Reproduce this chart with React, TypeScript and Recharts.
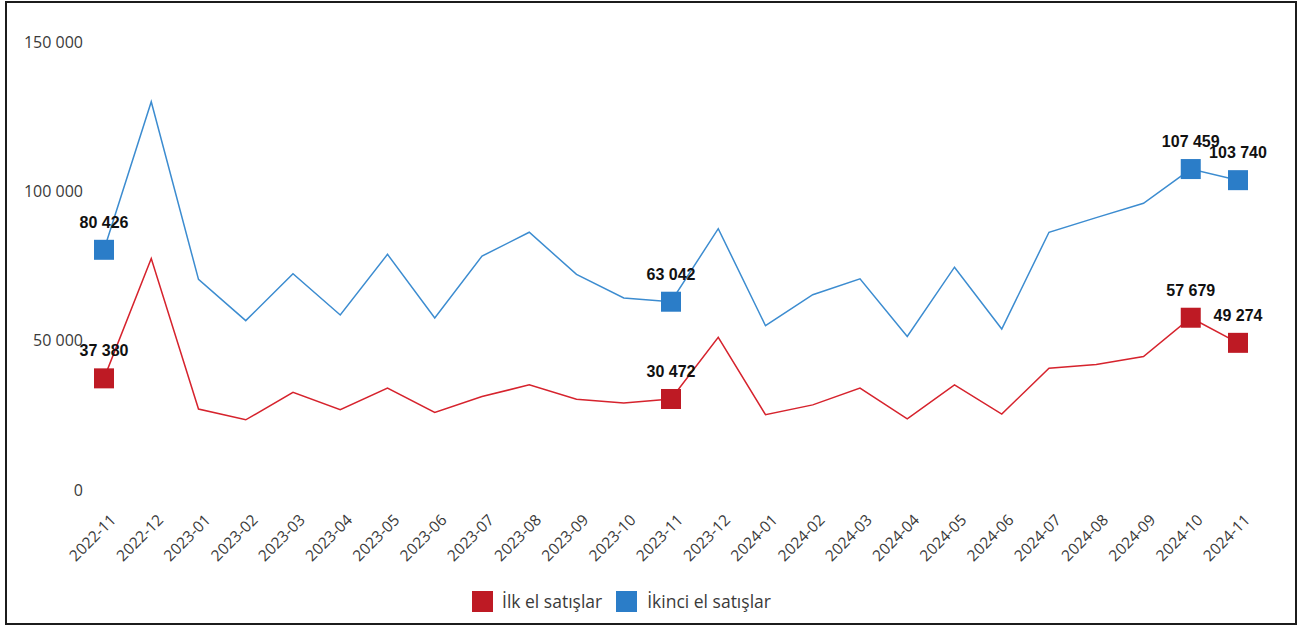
import React from 'react';
import { LineChart, Line, XAxis, YAxis, Legend, LabelList } from 'recharts';

const months = [
  '2022-11', '2022-12', '2023-01', '2023-02', '2023-03', '2023-04', '2023-05', '2023-06', '2023-07',
  '2023-08', '2023-09', '2023-10', '2023-11', '2023-12', '2024-01', '2024-02', '2024-03', '2024-04',
  '2024-05', '2024-06', '2024-07', '2024-08', '2024-09', '2024-10', '2024-11',
];
const ilkEl = [
  37380, 77500, 27100, 23500, 32700, 26900, 34100, 26000, 31300, 35200, 30400, 29100, 30472,
  51100, 25200, 28500, 34100, 23800, 35200, 25400, 40800, 42000, 44700, 57679, 49274,
];
const ikinciEl = [
  80426, 130000, 70500, 56700, 72400, 58600, 78900, 57600, 78300, 86300, 72200, 64300, 63042,
  87500, 55000, 65400, 70700, 51400, 74600, 53900, 86300, 91200, 96000, 107459, 103740,
];
const yTicks = [0, 50000, 100000, 150000];
const markedIdx = [0, 12, 23, 24];
const seriesNames = ['İlk el satışlar', 'İkinci el satışlar'];

const RED_LINE = '#D6232D';
const RED_MARK = '#BE1A24';
const BLUE_LINE = '#3C8CD0';
const BLUE_MARK = '#2B7DC8';
const TEXT = '#3a3a3a';
const FONT = "'Open Sans', 'Noto Sans', sans-serif";

const data = months.map((m, i) => ({ month: m, ilk: ilkEl[i], ikinci: ikinciEl[i] }));

const fmt = (v: number) => String(v).replace(/\B(?=(\d{3})+(?!\d))/g, ' ');

const XTick = (props: any) => {
  const { x, y, payload } = props;
  const bx = x + 13;
  const by = y + 31;
  return (
    <text x={bx} y={by} textAnchor="end" transform={`rotate(-45 ${bx} ${by})`}
      fontSize={15.5} fill={TEXT} fontFamily={FONT}>{payload.value}</text>
  );
};

const YTick = (props: any) => {
  const { x, y, payload } = props;
  return (
    <text x={x} y={y} dy="0.36em" textAnchor="end" fontSize={16} fill={TEXT} fontFamily={FONT}>
      {fmt(payload.value)}
    </text>
  );
};

const makeDot = (color: string) => (props: any) => {
  const { cx, cy, index } = props;
  if (!markedIdx.includes(index)) return <g key={`d${index}`} />;
  return <rect key={`d${index}`} x={cx - 10} y={cy - 10} width={20} height={20} fill={color} />;
};

const renderLabel = (props: any) => {
  const { x, y, value, index } = props;
  if (!markedIdx.includes(index)) return null;
  return (
    <text x={x} y={y - 22} textAnchor="middle" fontSize={16} fontWeight="bold"
      fontFamily="'Liberation Sans', Arial, sans-serif" fill="#111">{fmt(value)}</text>
  );
};

const LegendContent = () => (
  <div style={{ height: 30, display: 'flex', alignItems: 'center', paddingLeft: 472, fontFamily: FONT, fontSize: 17.5, color: TEXT }}>
    <div style={{ width: 21, height: 21, background: RED_MARK }} />
    <span style={{ marginLeft: 9 }}>{seriesNames[0]}</span>
    <div style={{ width: 21, height: 21, background: BLUE_MARK, marginLeft: 14 }} />
    <span style={{ marginLeft: 10 }}>{seriesNames[1]}</span>
  </div>
);

export default function App() {
  return (
    <div style={{ position: 'absolute', left: 0, top: 0, width: 1306, height: 628, background: '#fff' }}>
      <div style={{ position: 'absolute', left: 5, top: 1, width: 1292, height: 624, border: '2px solid #1c1c1c', boxSizing: 'border-box' }} />
      <div style={{ position: 'absolute', left: 0, top: 0 }}>
        <LineChart width={1306} height={628} data={data} margin={{ top: 42, right: 47, bottom: 12, left: 0 }}>
          <XAxis dataKey="month" axisLine={false} tickLine={false} tickSize={0} tickMargin={0}
            height={96} padding={{ left: 21, right: 21 }} interval={0} tick={<XTick />} />
          <YAxis domain={[0, 150000]} ticks={yTicks} axisLine={false} tickLine={false} tickSize={0}
            tickMargin={0} width={83} tick={<YTick />} />
          <Legend verticalAlign="bottom" content={<LegendContent />} wrapperStyle={{ left: 0, width: 1306 }} />
          <Line type="linear" dataKey="ilk" name={seriesNames[0]} stroke={RED_LINE} strokeWidth={1.5}
            dot={makeDot(RED_MARK)} activeDot={false} isAnimationActive={false}>
            <LabelList dataKey="ilk" content={renderLabel} />
          </Line>
          <Line type="linear" dataKey="ikinci" name={seriesNames[1]} stroke={BLUE_LINE} strokeWidth={1.5}
            dot={makeDot(BLUE_MARK)} activeDot={false} isAnimationActive={false}>
            <LabelList dataKey="ikinci" content={renderLabel} />
          </Line>
        </LineChart>
      </div>
    </div>
  );
}
